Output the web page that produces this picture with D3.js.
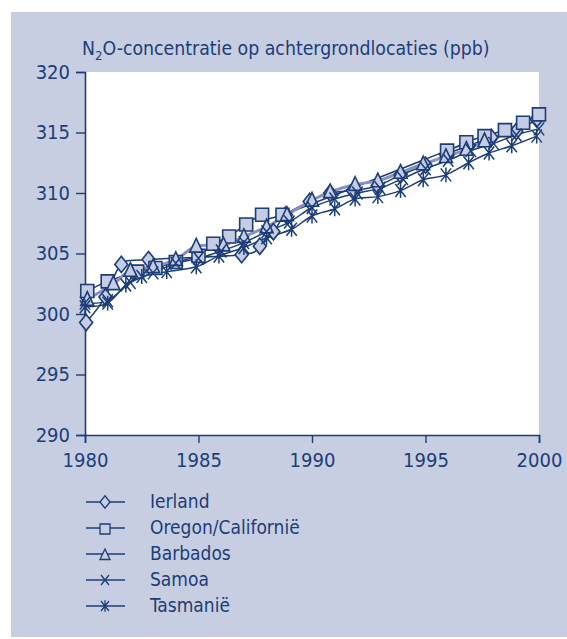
<!DOCTYPE html>
<html>
<head>
<meta charset="utf-8">
<script src="https://cdn.jsdelivr.net/npm/d3@7"></script>
<style>
  html, body { margin: 0; padding: 0; background: #ffffff; }
  svg { display: block; }
  text { font-family: "Liberation Sans Narrow", "DejaVu Sans Condensed", "Arial Narrow", sans-serif; fill: #1b3d78; }
</style>
</head>
<body>
<svg id="chart" width="567" height="639"></svg>
<script>
// N2O background concentrations (ppb) per monitoring site
const seriesNames = ["Ierland", "Oregon/Californië", "Barbados", "Samoa", "Tasmanië"];

const ierlandYears  = [1980.05, 1980.9, 1981.6, 1982.8, 1986.9, 1987.7, 1988.3, 1988.85, 1989.9, 1990.8, 1991.8, 1992.9, 1993.9, 1995.0, 1995.9, 1996.9, 1997.9, 1999.0, 1999.9];
const ierlandValues = [299.3, 301.4, 304.1, 304.5, 304.9, 305.6, 306.8, 308.2, 309.3, 310.0, 310.2, 310.6, 311.5, 312.3, 313.2, 313.9, 314.6, 315.1, 316.1];

const oregonYears  = [1980.1, 1981.0, 1982.3, 1983.1, 1984.0, 1985.0, 1985.65, 1986.35, 1987.1, 1987.8, 1988.7, 1995.95, 1996.8, 1997.6, 1998.5, 1999.3, 2000.0];
const oregonValues = [301.9, 302.7, 303.5, 303.8, 304.3, 304.8, 305.8, 306.4, 307.4, 308.2, 308.2, 313.5, 314.2, 314.7, 315.2, 315.8, 316.5];

const barbadosYears  = [1980.1, 1981.25, 1982.0, 1983.0, 1984.0, 1984.9, 1986.1, 1987.0, 1988.0, 1988.9, 1990.0, 1990.8, 1991.9, 1992.9, 1993.9, 1994.9, 1995.9, 1996.8, 1997.6];
const barbadosValues = [301.2, 302.5, 303.6, 303.9, 304.5, 305.6, 305.7, 306.4, 307.2, 308.2, 309.4, 310.1, 310.7, 311.0, 311.7, 312.4, 313.0, 313.6, 314.3];

const samoaYears  = [1980.0, 1981.0, 1982.0, 1983.0, 1984.0, 1985.0, 1986.0, 1987.0, 1988.0, 1989.0, 1990.0, 1991.0, 1992.0, 1993.0, 1994.0, 1995.0, 1996.0, 1997.0, 1998.0, 1999.0, 2000.0];
const samoaValues = [300.9, 301.1, 302.6, 303.4, 304.2, 304.6, 305.2, 305.9, 306.8, 307.6, 308.8, 309.5, 310.0, 310.4, 311.2, 312.0, 312.7, 313.5, 314.1, 314.8, 315.3];

const tasmaniaYears  = [1980.0, 1981.0, 1981.8, 1982.5, 1983.6, 1984.9, 1985.9, 1987.0, 1988.0, 1989.1, 1990.0, 1991.0, 1991.9, 1992.9, 1993.9, 1994.9, 1995.9, 1996.9, 1997.8, 1998.8, 1999.9];
const tasmaniaValues = [300.6, 300.9, 302.4, 303.1, 303.5, 303.9, 304.8, 305.5, 306.3, 307.0, 308.1, 308.7, 309.5, 309.7, 310.2, 311.1, 311.5, 312.5, 313.3, 313.9, 314.7];

const yTicks = [290, 295, 300, 305, 310, 315, 320];
const xTicks = [1980, 1985, 1990, 1995, 2000];

const NAVY = "#1b3d78";
const PANEL = "#c8cee2";
const FILL = "#c5cce3";
const LAVENDER = "#8a90c3";

const series = [
  { name: seriesNames[0], years: ierlandYears,  values: ierlandValues,  symbol: "diamond" },
  { name: seriesNames[1], years: oregonYears,   values: oregonValues,   symbol: "square" },
  { name: seriesNames[2], years: barbadosYears, values: barbadosValues, symbol: "triangle", lineColor: LAVENDER, lineWidth: 3 },
  { name: seriesNames[3], years: samoaYears,    values: samoaValues,    symbol: "cross" },
  { name: seriesNames[4], years: tasmaniaYears, values: tasmaniaValues, symbol: "asterisk" }
];

const svg = d3.select("#chart");

// background panel
svg.append("rect").attr("x", 11).attr("y", 12).attr("width", 556).attr("height", 625).attr("fill", PANEL);

const x = d3.scaleLinear().domain([1980, 2000]).range([85, 539]);
const y = d3.scaleLinear().domain([290, 320]).range([435, 72]);

// plot area
svg.append("rect")
  .attr("x", x(1980)).attr("y", y(320))
  .attr("width", x(2000) - x(1980)).attr("height", y(290) - y(320))
  .attr("fill", "#ffffff");

// title
const title = svg.append("text").attr("x", 82).attr("y", 55).attr("font-size", 19.3);
title.append("tspan").text("N");
title.append("tspan").attr("font-size", 13).attr("dy", 5).text("2");
title.append("tspan").attr("dy", -5).text("O-concentratie op achtergrondlocaties (ppb)");

// axes
const yAxis = d3.axisLeft(y).tickValues(yTicks).tickSize(9).tickPadding(6).tickFormat(d3.format("d"));
const gy = svg.append("g").attr("transform", `translate(${x(1980)},0)`).call(yAxis);
gy.select(".domain").attr("stroke", NAVY).attr("stroke-width", 1.6);
gy.selectAll(".tick line").attr("stroke", NAVY).attr("stroke-width", 1.4);
gy.selectAll(".tick text").attr("font-size", 20).attr("fill", NAVY)
  .style("font-family", "'Liberation Sans Narrow', 'DejaVu Sans Condensed', sans-serif");

const xAxis = d3.axisBottom(x).tickValues(xTicks).tickSize(8).tickPadding(10).tickFormat(d3.format("d"));
const gx = svg.append("g").attr("transform", `translate(0,${y(290)})`).call(xAxis);
gx.select(".domain").attr("stroke", NAVY).attr("stroke-width", 1.6);
gx.selectAll(".tick line").attr("stroke", NAVY).attr("stroke-width", 1.4);
gx.selectAll(".tick text").attr("font-size", 20).attr("fill", NAVY)
  .style("font-family", "'Liberation Sans Narrow', 'DejaVu Sans Condensed', sans-serif");

// marker shapes, centered on 0,0
function markerPath(type, s) {
  const h = s / 2;
  switch (type) {
    case "diamond":  return `M0,${-h * 1.25}L${h},0L0,${h * 1.25}L${-h},0Z`;
    case "square":   return `M${-h},${-h}H${h}V${h}H${-h}Z`;
    case "triangle": return `M0,${-h * 1.2}L${h},${h * 0.9}H${-h}Z`;
    case "cross":    return `M${-h * 0.8},${-h}L${h * 0.8},${h}M${h * 0.8},${-h}L${-h * 0.8},${h}`;
    case "asterisk": return `M${-h * 0.8},${-h}L${h * 0.8},${h}M${h * 0.8},${-h}L${-h * 0.8},${h}M0,${-h * 1.15}V${h * 1.15}`;
  }
}

const line = d3.line().x(d => x(d[0])).y(d => y(d[1])).curve(d3.curveCatmullRom.alpha(0));

const plot = svg.append("g");
series.forEach(s => {
  const pts = s.years.map((yr, i) => [yr, s.values[i]]);
  plot.append("path")
    .attr("d", line(pts))
    .attr("fill", "none")
    .attr("stroke", s.lineColor || NAVY)
    .attr("stroke-width", s.lineWidth || 1.5);
});

series.forEach(s => {
  const pts = s.years.map((yr, i) => [yr, s.values[i]]);
  const open = s.symbol === "cross" || s.symbol === "asterisk";
  plot.selectAll(null).data(pts).enter().append("path")
    .attr("transform", d => `translate(${x(d[0])},${y(d[1])})`)
    .attr("d", markerPath(s.symbol, 13))
    .attr("fill", open ? "none" : FILL)
    .attr("stroke", NAVY)
    .attr("stroke-width", open ? 1.5 : 1.6)
    .attr("stroke-linejoin", "miter");
});

// legend
const legend = svg.append("g");
const rowY = d3.scalePoint().domain(seriesNames).range([502, 606]);
series.forEach(s => {
  const g = legend.append("g").attr("transform", `translate(0,${rowY(s.name)})`);
  g.append("line").attr("x1", 86).attr("x2", 125).attr("y1", 0).attr("y2", 0)
    .attr("stroke", NAVY).attr("stroke-width", 1.4);
  const yOff = s.symbol === "triangle" ? 1 : (s.symbol === "square" ? 1 : 0);
  g.append("path")
    .attr("transform", `translate(105,${yOff})`)
    .attr("d", markerPath(s.symbol, 10))
    .attr("fill", PANEL)
    .attr("stroke", NAVY)
    .attr("stroke-width", 1.3);
  g.append("text").attr("x", 150).attr("y", 0).attr("dy", "0.33em")
    .attr("font-size", 19).text(s.name);
});
</script>
</body>
</html>
